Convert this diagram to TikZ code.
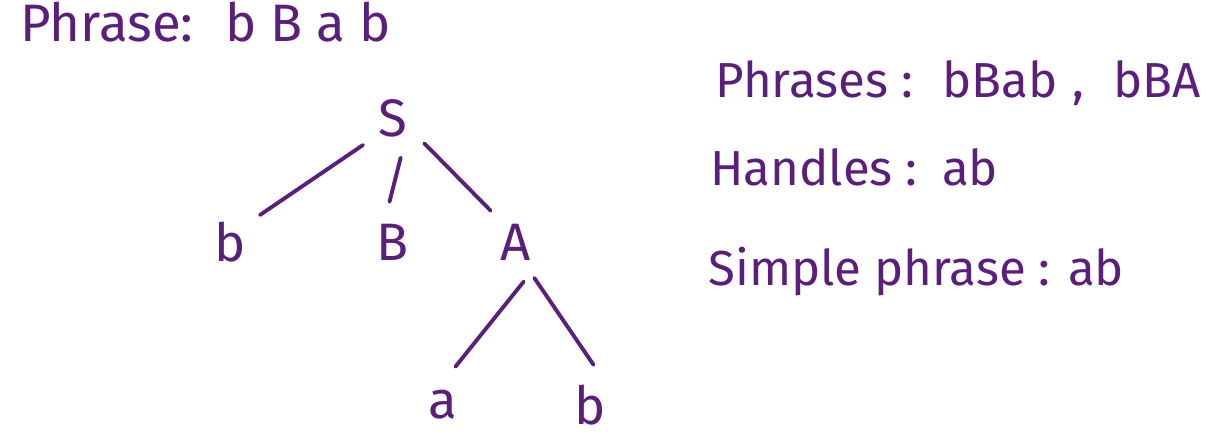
\documentclass[tikz,border=0pt]{standalone}
\usepackage{fontspec}
\setmainfont{Fira Sans}
\usepackage{xcolor}
\usetikzlibrary{positioning}
\definecolor{inkpurple}{HTML}{5A1F7D}

\begin{document}
\begin{tikzpicture}[
    x=0.02cm, y=-0.02cm,
    symbol/.style={circle, minimum size=1.6cm, inner sep=0pt, text=inkpurple, font=\fontsize{30}{36}\selectfont},
    note/.style={anchor=base west, inner sep=0pt, text=inkpurple, font=\fontsize{28}{34}\selectfont},
    branch/.style={draw=inkpurple, line width=2.2pt, line cap=round}
]
\useasboundingbox (0,0) rectangle (1224,442);

% Title
\node[note, font=\fontsize{30}{36}\selectfont] (title) at (20,42) {Phrase:\hspace{0.6em}b B a b};

% Parse tree
\node[symbol] (root) at (393,118) {S};
\node[symbol] (lb) at (230,242) {b};
\node[symbol] (mB) at (393,242) {B};
\node[symbol] (rA) at (516,242) {A};
\node[symbol] (la) at (443,405) {a};
\node[symbol] (rb) at (590,405) {b};

\draw[branch] (root.-138) -- (lb.42);
\draw[branch] (root.-79) -- (mB.95);
\draw[branch] (root.-39) -- (rA.129);
\draw[branch] (rA.-79) -- (la.72);
\draw[branch] (rA.-63) -- (rb.85);

% Notes
\node[note] (phrases) at (715,98) {Phrases :\hspace{0.6em}bBab\hspace{0.3em},\hspace{0.6em}bBA};
\node[note] (handles) at (710,186) {Handles :\hspace{0.5em}ab};
\node[note] (simple) at (708,286) {Simple phrase : ab};

\end{tikzpicture}
\end{document}
